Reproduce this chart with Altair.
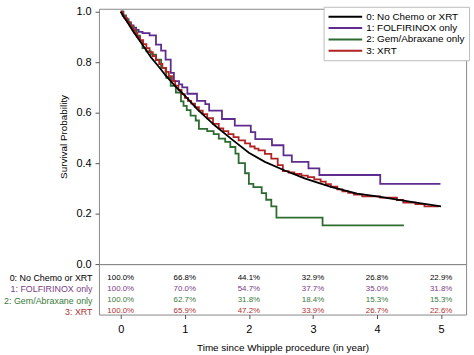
import altair as alt
import pandas as pd

groups = ["0: No Chemo or XRT", "1: FOLFIRINOX only", "2: Gem/Abraxane only", "3: XRT"]
line_colors = ["#000000", "#5E2C8E", "#2E6B30", "#B22222"]
table_colors = ["#000000", "#7A3D85", "#3A7A3A", "#B03030"]

# Kaplan-Meier curves (time in years, survival probability)
t_none = [0, 0.05, 0.1, 0.2, 0.34, 0.47, 0.6, 0.7, 0.85, 1.0, 1.2, 1.47, 1.73, 2.0,
          2.25, 2.56, 2.87, 3.0, 3.28, 3.69, 4.0, 4.56, 5.0]
s_none = [1.0, 0.978, 0.96, 0.92, 0.869, 0.82, 0.78, 0.748, 0.705, 0.668, 0.612, 0.549,
          0.495, 0.441, 0.405, 0.371, 0.34, 0.329, 0.306, 0.279, 0.268, 0.246, 0.229]

t_folf = [0, 0.04, 0.08, 0.12, 0.16, 0.2, 0.24, 0.28, 0.34, 0.45, 0.55, 0.63, 0.7, 0.78,
          0.83, 0.91, 0.96, 1.04, 1.19, 1.32, 1.38, 1.58, 1.78, 2.03, 2.1, 2.36, 2.54,
          2.67, 2.93, 3.1, 4.05, 4.99]
s_folf = [1.0, 0.985, 0.97, 0.958, 0.946, 0.937, 0.928, 0.92, 0.915, 0.906, 0.870, 0.846,
          0.81, 0.758, 0.725, 0.712, 0.70, 0.675, 0.647, 0.634, 0.608, 0.575, 0.549, 0.523,
          0.495, 0.471, 0.431, 0.405, 0.379, 0.353, 0.318, 0.318]

t_gem = [0, 0.04, 0.08, 0.12, 0.16, 0.2, 0.25, 0.3, 0.34, 0.4, 0.47, 0.55, 0.63, 0.71,
         0.78, 0.86, 0.94, 0.98, 1.03, 1.09, 1.17, 1.22, 1.35, 1.45, 1.53, 1.63, 1.71,
         1.79, 1.84, 1.94, 2.0, 2.07, 2.2, 2.27, 2.35, 2.43, 3.15, 4.42]
s_gem = [1.0, 0.985, 0.97, 0.955, 0.94, 0.925, 0.905, 0.885, 0.856, 0.843, 0.83, 0.81,
         0.778, 0.738, 0.706, 0.68, 0.645, 0.627, 0.61, 0.588, 0.569, 0.536, 0.527, 0.515,
         0.497, 0.484, 0.464, 0.438, 0.40, 0.36, 0.318, 0.305, 0.281, 0.255, 0.229, 0.184,
         0.153, 0.153]

t_xrt = [0, 0.03, 0.06, 0.1, 0.14, 0.18, 0.22, 0.26, 0.3, 0.35, 0.4, 0.45, 0.5, 0.55,
         0.6, 0.65, 0.7, 0.75, 0.8, 0.85, 0.9, 0.95, 1.0, 1.05, 1.1, 1.16, 1.22, 1.28,
         1.35, 1.44, 1.53, 1.6, 1.68, 1.76, 1.84, 1.94, 2.02, 2.09, 2.15, 2.25, 2.35,
         2.45, 2.53, 2.62, 2.71, 2.82, 2.92, 3.02, 3.12, 3.2, 3.28, 3.38, 3.46, 3.55,
         3.64, 3.77, 4.05, 4.31, 4.41, 4.6, 4.74, 4.97]
s_xrt = [1.0, 0.985, 0.975, 0.96, 0.945, 0.93, 0.915, 0.90, 0.888, 0.872, 0.856, 0.84,
         0.824, 0.808, 0.793, 0.778, 0.762, 0.745, 0.726, 0.707, 0.69, 0.674, 0.659,
         0.647, 0.636, 0.622, 0.608, 0.594, 0.578, 0.556, 0.538, 0.527, 0.515, 0.503,
         0.49, 0.478, 0.466, 0.458, 0.451, 0.437, 0.418, 0.392, 0.368, 0.363, 0.357,
         0.351, 0.345, 0.336, 0.327, 0.317, 0.307, 0.296, 0.288, 0.282, 0.275, 0.268,
         0.263, 0.254, 0.244, 0.238, 0.229, 0.226]

# Survival table below the plot
years = [0, 1, 2, 3, 4, 5]
pct_none = [1.0, 0.668, 0.441, 0.329, 0.268, 0.229]
pct_folf = [1.0, 0.700, 0.547, 0.377, 0.350, 0.318]
pct_gem = [1.0, 0.627, 0.318, 0.184, 0.153, 0.153]
pct_xrt = [1.0, 0.659, 0.472, 0.339, 0.267, 0.226]

FONT = "Liberation Sans"

black_df = pd.DataFrame({"t": t_none, "s": s_none, "group": groups[0]})
steps_df = pd.concat([
    pd.DataFrame({"t": t_folf, "s": s_folf, "group": groups[1]}),
    pd.DataFrame({"t": t_gem, "s": s_gem, "group": groups[2]}),
    pd.DataFrame({"t": t_xrt, "s": s_xrt, "group": groups[3]}),
], ignore_index=True)

table_df = pd.concat([
    pd.DataFrame({"year": years, "pct": p, "group": g})
    for g, p in zip(groups, [pct_none, pct_folf, pct_gem, pct_xrt])
], ignore_index=True)

xscale = alt.Scale(domain=[-0.34, 5.39], nice=False, zero=False)
yscale = alt.Scale(domain=[0, 1.0118], nice=False, zero=False)
cscale = alt.Scale(domain=groups, range=line_colors)

legend = alt.Legend(
    title=None, orient="none", legendX=227, legendY=-2,
    symbolType="M-1,0H5.8", symbolSize=100, symbolStrokeWidth=2,
    labelFontSize=10, labelFont=FONT, labelColor="#000000", labelOffset=27,
    rowPadding=0.5, padding=4, strokeColor="#bbbbbb", fillColor="#ffffff",
)

yaxis = alt.Axis(
    values=[0, 0.2, 0.4, 0.6, 0.8, 1.0], format=".1f", title="Survival Probability",
    tickSize=4, labelPadding=4, titlePadding=8, domain=False, grid=False,
    labelFontSize=11, titleFontSize=10, titleFontWeight="normal",
    tickColor="#555555", labelColor="#000000", titleColor="#000000",
)

steps = alt.Chart(steps_df).mark_line(interpolate="step-after", strokeWidth=1.8).encode(
    x=alt.X("t:Q", scale=xscale, axis=None),
    y=alt.Y("s:Q", scale=yscale, axis=yaxis),
    color=alt.Color("group:N", scale=cscale, legend=legend),
)
black = alt.Chart(black_df).mark_line(strokeWidth=1.8).encode(
    x=alt.X("t:Q", scale=xscale, axis=None),
    y=alt.Y("s:Q", scale=yscale, axis=yaxis),
    color=alt.Color("group:N", scale=cscale, legend=legend),
)
top = alt.layer(steps, black).properties(width=371, height=258)

label_color = {
    "condition": [
        {"test": f"datum.value == '{groups[1]}'", "value": table_colors[1]},
        {"test": f"datum.value == '{groups[2]}'", "value": table_colors[2]},
        {"test": f"datum.value == '{groups[3]}'", "value": table_colors[3]},
    ],
    "value": table_colors[0],
}

bottom = alt.Chart(table_df).mark_text(fontSize=8, font=FONT, align="center", baseline="middle").encode(
    x=alt.X("year:Q", scale=xscale, axis=alt.Axis(
        values=years, format="d", title="Time since Whipple procedure (in year)",
        tickSize=4, labelPadding=5, titlePadding=8, domain=False, grid=False,
        labelFontSize=11, titleFontSize=10, titleFontWeight="normal",
        tickColor="#555555", labelColor="#000000", titleColor="#000000")),
    y=alt.Y("group:N", scale=alt.Scale(type="point", domain=groups, range=[14, 47.5], padding=0),
            axis=alt.Axis(title=None, ticks=False, domain=False, grid=False, labelPadding=7,
                          labelFontSize=9, minExtent=99, labelColor=label_color)),
    color=alt.Color("group:N", scale=alt.Scale(domain=groups, range=table_colors), legend=None),
    text=alt.Text("pct:Q", format=".1%"),
).properties(width=371, height=51)

chart = alt.vconcat(top, bottom, spacing=0, bounds="flush").resolve_scale(
    color="independent", x="shared"
).properties(
    padding={"left": 0, "top": 3, "right": 4, "bottom": 0},
    background="#ffffff",
).configure_view(
    stroke="#888888", strokeWidth=1
).configure_axis(
    labelFont=FONT, titleFont=FONT
).configure_legend(
    labelFont=FONT
)

chart.save("out.html", embed_options={"renderer": "svg", "actions": False})
